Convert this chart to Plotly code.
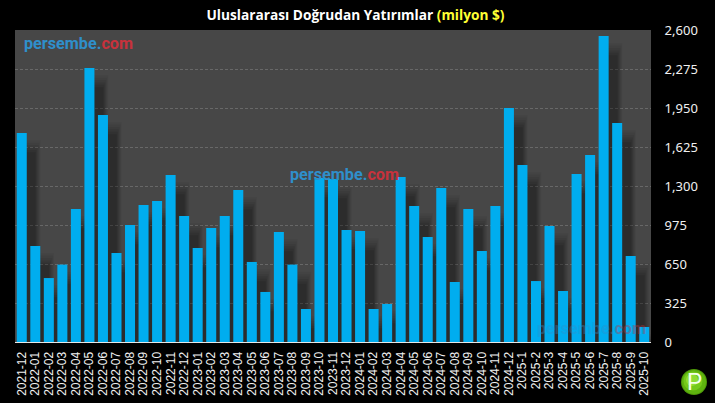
import plotly.graph_objects as go

months = ["2021-12","2022-01","2022-02","2022-03","2022-04","2022-05","2022-06","2022-07","2022-08","2022-09","2022-10","2022-11","2022-12",
          "2023-01","2023-02","2023-03","2023-04","2023-05","2023-06","2023-07","2023-08","2023-09","2023-10","2023-11","2023-12",
          "2024-01","2024-02","2024-03","2024-04","2024-05","2024-06","2024-07","2024-08","2024-09","2024-10","2024-11","2024-12",
          "2025-1","2025-2","2025-3","2025-4","2025-5","2025-6","2025-7","2025-8","2025-9","2025-10"]
values = [1741,800,533,645,1108,2283,1892,742,975,1142,1175,1392,1050,
          783,950,1050,1267,667,417,917,645,275,1367,1358,933,
          925,275,317,1375,1133,875,1283,500,1108,758,1133,1950,
          1475,508,967,425,1400,1558,2550,1825,717,125]
y_ticks = [0,325,650,975,1300,1625,1950,2275,2600]
y_labels = ["0","325","650","975","1,300","1,625","1,950","2,275","2,600"]

fig = go.Figure()

# soft shadow behind each bar: stacked translucent copies of the data
for grow, drop, op in [(0.70,60,0.04),(0.56,80,0.05),(0.42,100,0.06),(0.28,120,0.07),(0.14,140,0.08),(0.0,160,0.08)]:
    w = 0.74 + grow
    fig.add_bar(x=months, y=[max(v-drop,0) for v in values], width=w, offset=0.66-w/2,
                marker=dict(color="#000000", line_width=0), opacity=op, hoverinfo="skip", showlegend=False)

fig.add_bar(x=months, y=values, width=0.74, offset=-0.37,
            marker=dict(color="#00ADEF", line_width=0), showlegend=False)

wm = "<b><span style='color:#2F8FCB'>persembe.</span><span style='color:#C8323C'>com</span></b>"
annots = [(22, 44, 1.0), (288, 174, 1.0), (535, 328, 0.38)]
annotations = [dict(text=wm, xref="paper", yref="paper",
                    x=(px-15)/636, y=(403-py-61)/312, xanchor="left", yanchor="middle",
                    showarrow=False, opacity=op, font=dict(family="Roboto", size=16.2))
               for px, py, op in annots]
annotations.append(dict(text="P", xref="paper", yref="paper", x=(694-15)/636, y=(403-382-61)/312,
                        xanchor="center", yanchor="middle", showarrow=False,
                        font=dict(family="Liberation Sans", size=23, color="#F4FFE8")))

shapes = []
for r, col, dx in [(13,"#4E9A08",0),(12,"#5FB30F",0),(9.5,"#74C91A",-1),(6,"#8FDD33",-2)]:
    cx, cy = 694+dx, 382+dx
    shapes.append(dict(type="circle", xref="paper", yref="paper", layer="above",
                       x0=(cx-r-15)/636, x1=(cx+r-15)/636,
                       y0=(403-(cy+r)-61)/312, y1=(403-(cy-r)-61)/312,
                       fillcolor=col, line_width=0))

fig.update_layout(
    width=715, height=403, autosize=False, barmode="overlay",
    paper_bgcolor="#000000", plot_bgcolor="#474747",
    margin=dict(l=15, r=64, t=30, b=61, pad=0),
    title=dict(text="<b>Uluslararası Doğrudan Yatırımlar <span style='color:#FFFF33'>(milyon $)</span></b>",
               x=355.5/715, xanchor="center", y=1-15/403, yanchor="middle", automargin=False,
               font=dict(family="Open Sans", size=13.7, color="#FFFFFF")),
    xaxis=dict(type="category", categoryorder="array", categoryarray=months, range=[-0.5,46.5],
               tickmode="array", tickvals=months, ticktext=months, tickangle=-90, automargin=False,
               tickfont=dict(family="Liberation Sans", size=12, color="#F0F0F0"),
               showgrid=False, showline=True, linecolor="#E8E8E8", linewidth=1,
               ticks="outside", ticklen=4, tickcolor="rgba(0,0,0,0)", zeroline=False),
    yaxis=dict(side="right", range=[0,2600], tickmode="array", tickvals=y_ticks, ticktext=y_labels, automargin=False,
               tickfont=dict(family="Noto Sans", size=13, color="#F0F0F0"),
               gridcolor="#686868", griddash="3px,2px", gridwidth=1, zeroline=False, showline=False,
               ticks="outside", ticklen=10, tickcolor="rgba(0,0,0,0)"),
    annotations=annotations, shapes=shapes,
)
fig.write_html("out.html", config=dict(displayModeBar=False),
               post_script="document.body.style.margin='0';document.body.style.background='#000';")
